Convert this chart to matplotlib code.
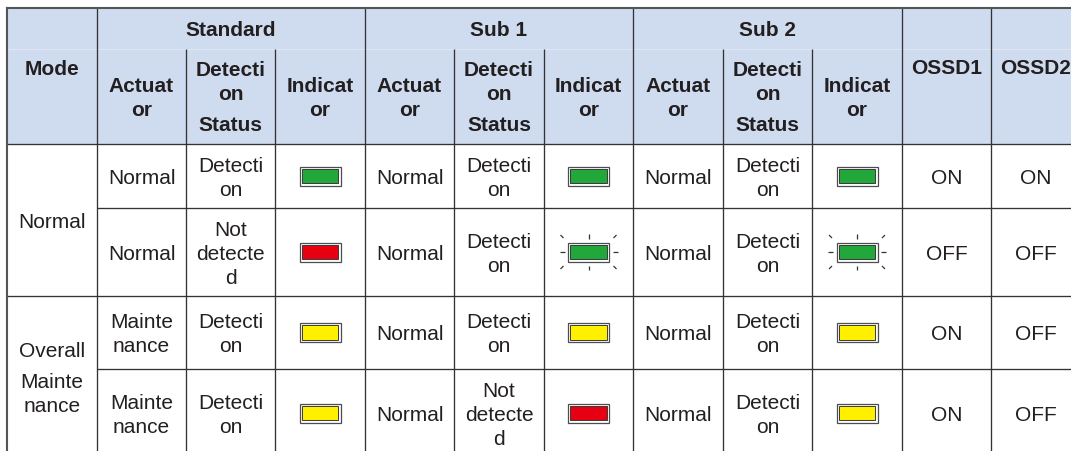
import matplotlib.pyplot as plt
from matplotlib.patches import Rectangle

plt.rcParams['font.family'] = ['Liberation Sans', 'DejaVu Sans']

# table content
groups = ["Standard", "Sub 1", "Sub 2"]
sub_headers = ["Actuat\nor", "Detecti\non\n\nStatus", "Indicat\nor"]
outputs = ["OSSD1", "OSSD2"]
modes = ["Normal", "Overall\n\nMainte\nnance"]
mode_rows = [2, 2]  # rows spanned by each mode

actuator = [
    ["Normal", "Normal", "Normal"],
    ["Normal", "Normal", "Normal"],
    ["Mainte\nnance", "Normal", "Normal"],
    ["Mainte\nnance", "Normal", "Normal"],
]
detection = [
    ["Detecti\non", "Detecti\non", "Detecti\non"],
    ["Not\ndetecte\nd", "Detecti\non", "Detecti\non"],
    ["Detecti\non", "Detecti\non", "Detecti\non"],
    ["Detecti\non", "Not\ndetecte\nd", "Detecti\non"],
]
indicator = [
    ["green", "green", "green"],
    ["red", "green_blink", "green_blink"],
    ["yellow", "yellow", "yellow"],
    ["yellow", "red", "yellow"],
]
ossd1 = ["ON", "OFF", "ON", "ON"]
ossd2 = ["ON", "OFF", "OFF", "OFF"]

# layout in pixels
col_x = [7, 97, 186, 275, 365, 454, 544, 633, 723, 812, 902, 991, 1081]
row_y = [9, 50, 145, 209, 297, 370, 458]
led_colors = {"green": "#22a83a", "red": "#e60012", "yellow": "#fff000"}
header_bg = "#cfdcf0"
line_c = "#333333"
text_c = "#231f20"
FS = 15.0
PITCH = 24
GAP = 7

fig = plt.figure(figsize=(10.71, 4.52), dpi=100)
ax = fig.add_axes([0, 0, 1, 1])
ax.set_xlim(0, 1071)
ax.set_ylim(452, 0)
ax.axis('off')


def cell_text(cx, cy, s, bold=False):
    # place lines one by one; an empty line adds a small extra gap
    offs = []
    y = 0
    first = True
    for ln in s.split("\n"):
        if ln == "":
            y += GAP
            continue
        if not first:
            y += PITCH
        offs.append((y, ln))
        first = False
    half = offs[-1][0] / 2
    for dy, ln in offs:
        ax.text(cx, cy - half + dy + 7, ln, ha='center', va='baseline',
                fontsize=FS, color=text_c,
                fontweight='bold' if bold else 'normal')


def led(cx, cy, kind):
    blink = kind.endswith("_blink")
    col = led_colors[kind.replace("_blink", "")]
    ax.add_patch(Rectangle((cx - 20.5, cy - 9.5), 41, 19, facecolor='white',
                           edgecolor='#4d4d4d', lw=0.9, zorder=3))
    ax.add_patch(Rectangle((cx - 18.2, cy - 7.2), 36.4, 14.4, facecolor=col,
                           edgecolor='#3a3a3a', lw=0.7, zorder=4))
    if blink:
        ticks = [((0, -13.5), (0, -18)), ((0, 13.5), (0, 18)),
                 ((-29, 0), (-24, 0)), ((24, 0), (29, 0)),
                 ((-28, -17), (-25, -14)), ((28, -17), (25, -14)),
                 ((-28, 17), (-25, 14)), ((28, 17), (25, 14))]
        for (x0, y0), (x1, y1) in ticks:
            ax.plot([cx + x0, cx + x1], [cy + y0, cy + y1], color='#333333',
                    lw=0.9, solid_capstyle='butt', zorder=4)


# header background
ax.add_patch(Rectangle((col_x[0], row_y[0]), col_x[-1] - col_x[0],
                       row_y[2] - row_y[0], facecolor=header_bg,
                       edgecolor='none', zorder=0))
ax.plot([col_x[0], col_x[-1]], [row_y[1], row_y[1]], color='#e2e9f5',
        lw=0.6, zorder=1)

# header texts
cell_text((col_x[0] + col_x[1]) / 2, 68, "Mode", bold=True)
for g, name in enumerate(groups):
    x0 = col_x[1 + 3 * g]
    x1 = col_x[4 + 3 * g]
    cell_text((x0 + x1) / 2, (row_y[0] + row_y[1]) / 2 - 1, name, bold=True)
    for k, sh in enumerate(sub_headers):
        c = 1 + 3 * g + k
        cell_text((col_x[c] + col_x[c + 1]) / 2, 97, sh, bold=True)
for k, name in enumerate(outputs):
    c = 10 + k
    cell_text((col_x[c] + col_x[c + 1]) / 2, 67, name, bold=True)

# body
r0 = 0
for m, span in zip(modes, mode_rows):
    cy = (row_y[2 + r0] + row_y[2 + r0 + span]) / 2
    cell_text((col_x[0] + col_x[1]) / 2, cy, m)
    r0 += span

for r in range(len(ossd1)):
    cy = (row_y[2 + r] + row_y[3 + r]) / 2
    for g in range(3):
        c = 1 + 3 * g
        cell_text((col_x[c] + col_x[c + 1]) / 2, cy, actuator[r][g])
        cell_text((col_x[c + 1] + col_x[c + 2]) / 2, cy, detection[r][g])
        led((col_x[c + 2] + col_x[c + 3]) / 2, cy, indicator[r][g])
    cell_text((col_x[10] + col_x[11]) / 2, cy, ossd1[r])
    cell_text((col_x[11] + col_x[12]) / 2, cy, ossd2[r])

# grid lines
kw = dict(color=line_c, lw=0.95, solid_capstyle='butt', zorder=2)
# vertical: full height between groups, partial inside groups
for i, x in enumerate(col_x[1:-1], start=1):
    top = row_y[0] if i in (1, 4, 7, 10, 11) else row_y[1]
    ax.plot([x, x], [top, row_y[-1]], **kw)
# horizontal body lines
ax.plot([col_x[0], col_x[-1]], [row_y[2], row_y[2]], **kw)
ax.plot([col_x[1], col_x[-1]], [row_y[3], row_y[3]], **kw)
ax.plot([col_x[0], col_x[-1]], [row_y[4], row_y[4]], **kw)
ax.plot([col_x[1], col_x[-1]], [row_y[5], row_y[5]], **kw)
# outer border
ax.plot([col_x[0], col_x[-1]], [row_y[0], row_y[0]], color='#555555',
        lw=1.5, zorder=2)
ax.plot([col_x[0], col_x[0]], [row_y[0], row_y[-1]], color='#555555',
        lw=1.5, zorder=2)

fig.savefig("out.png", dpi=100)
